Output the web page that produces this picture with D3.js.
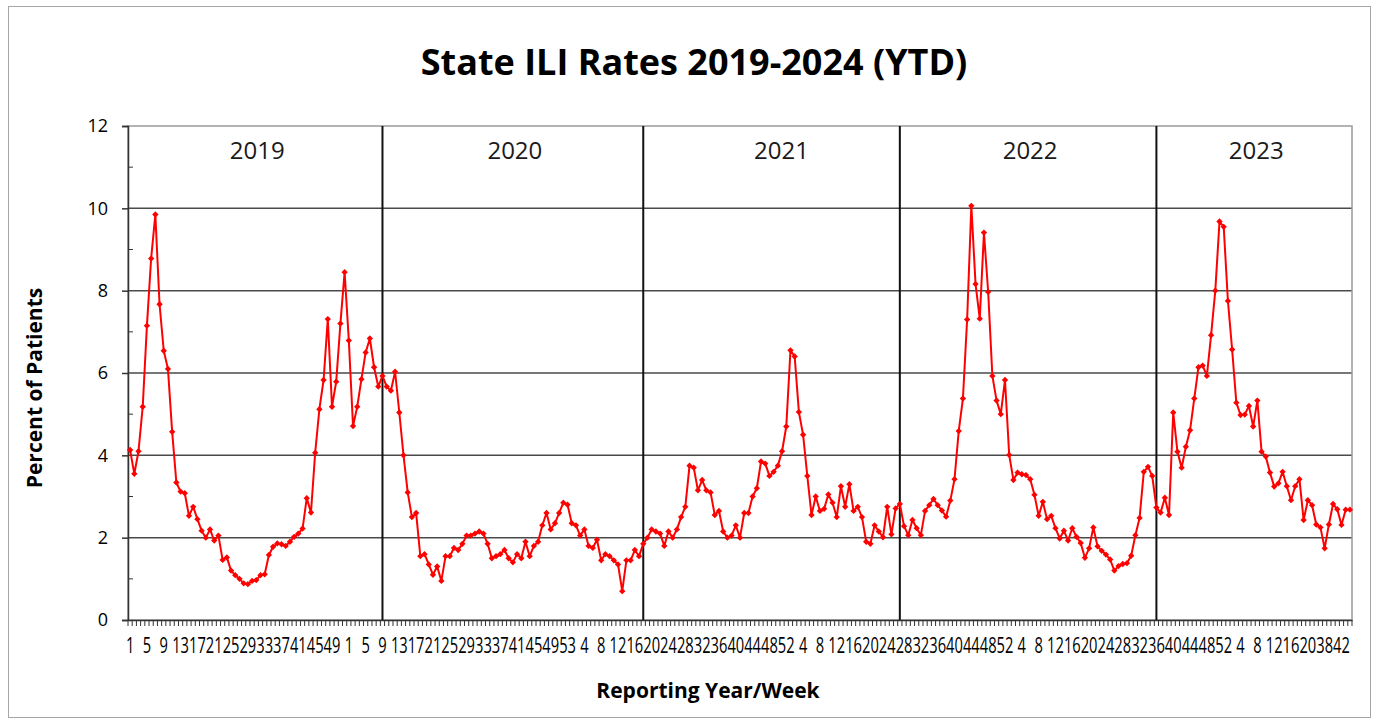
<!DOCTYPE html>
<html>
<head>
<meta charset="utf-8">
<script src="https://cdn.jsdelivr.net/npm/d3@7"></script>
<style>
body { margin: 0; background: #fff; }
text { font-family: "Open Sans", "Noto Sans", sans-serif; fill: #000; }
</style>
</head>
<body>
<svg id="chart" width="1380" height="724"></svg>
<script>
// weekly ILI rates (% of patients)
const ili2019 = [4.13,3.55,4.1,5.18,7.15,8.78,9.85,7.67,6.54,6.1,4.57,3.34,3.12,3.08,2.53,2.75,2.45,2.17,2.0,2.2,
	1.93,2.05,1.46,1.52,1.2,1.09,1.0,0.89,0.87,0.95,0.97,1.09,1.11,1.58,1.78,1.86,1.84,1.8,1.9,2.02,
	2.1,2.22,2.96,2.61,4.06,5.12,5.83,7.31,5.18,5.79,7.2,8.45];
const ili2020 = [6.79,4.71,5.18,5.85,6.5,6.84,6.14,5.67,5.93,5.67,5.57,6.03,5.04,4.0,3.1,2.5,2.6,1.55,1.6,1.35,
	1.1,1.3,0.95,1.55,1.55,1.75,1.7,1.85,2.05,2.05,2.1,2.15,2.1,1.85,1.5,1.55,1.6,1.7,1.5,1.4,
	1.6,1.5,1.9,1.55,1.8,1.9,2.3,2.6,2.2,2.35,2.6,2.85,2.8];
const ili2021 = [2.35,2.3,2.05,2.2,1.8,1.75,1.95,1.45,1.6,1.55,1.45,1.35,0.7,1.45,1.45,1.7,1.55,1.85,2.0,2.2,
	2.15,2.1,1.8,2.15,2.0,2.2,2.5,2.75,3.75,3.7,3.15,3.4,3.15,3.1,2.55,2.65,2.15,2.0,2.05,2.3,
	2.0,2.6,2.6,3.0,3.2,3.85,3.8,3.5,3.6,3.75,4.1,4.7];
const ili2022 = [6.55,6.4,5.05,4.5,3.5,2.55,3.0,2.65,2.7,3.05,2.85,2.5,3.25,2.75,3.3,2.65,2.75,2.5,1.9,1.85,
	2.3,2.15,2.01,2.75,2.08,2.71,2.82,2.28,2.06,2.43,2.23,2.06,2.65,2.79,2.94,2.79,2.66,2.51,2.9,3.42,
	4.59,5.38,7.3,10.06,8.16,7.32,9.41,7.97,5.93,5.33,5.0,5.83];
const ili2023 = [4.01,3.4,3.58,3.54,3.52,3.42,3.04,2.53,2.87,2.45,2.53,2.23,1.98,2.17,1.93,2.23,2.02,1.87,1.51,1.74,
	2.25,1.79,1.68,1.59,1.47,1.2,1.31,1.36,1.38,1.56,2.06,2.48,3.6,3.72,3.5,2.73,2.61,2.97,2.55,5.04,
	4.09,3.7,4.21,4.61,5.38,6.14,6.18,5.93,6.92,8.0,9.68,9.55];
const ili2024 = [7.75,6.57,5.28,4.98,4.99,5.2,4.7,5.33,4.09,3.97,3.58,3.24,3.32,3.6,3.25,2.91,3.25,3.42,2.43,2.91,
	2.79,2.32,2.25,1.74,2.32,2.82,2.69,2.31,2.68,2.68];
const weeks2024 = [1,2,3,4,5,6,7,8,9,10,11,12,13,14,15,16,17,18,19,20,21,36,37,38,39,40,41,42,43,44];

const yTicks = [0, 2, 4, 6, 8, 10, 12];
const yMinor = [1, 3, 5, 7, 9, 11];
const yearLabels = ['2019', '2020', '2021', '2022', '2023'];
const dividerCats = [60, 122, 183, 244];   // category index where the black separators sit
const labelEvery = 4;

const W = 1380, H = 724,
	margin = {top: 126, right: 28, bottom: 104, left: 128};

// flatten the years into one run of weekly categories
const seasons = [
	{values: ili2019, weeks: d3.range(1, 53)},
	{values: ili2020, weeks: d3.range(1, 54)},
	{values: ili2021, weeks: d3.range(1, 53)},
	{values: ili2022, weeks: d3.range(1, 53)},
	{values: ili2023, weeks: d3.range(1, 53)},
	{values: ili2024, weeks: weeks2024}
];
const points = [];
seasons.forEach(s => s.values.forEach((v, k) => points.push({i: points.length, week: s.weeks[k], value: v})));

const svg = d3.select('#chart');

// outer frame
svg.append('rect')
	.attr('x', 8.5).attr('y', 6.5)
	.attr('width', 1362).attr('height', 711)
	.attr('fill', 'none').attr('stroke', '#a6a6a6').attr('stroke-width', 1);

const x = d3.scaleBand()
	.domain(points.map(d => d.i))
	.range([margin.left, W - margin.right]);
const y = d3.scaleLinear()
	.domain([0, 12])
	.range([H - margin.bottom, margin.top]);
const cx = i => x(i) + x.bandwidth() / 2;

const plotL = margin.left, plotR = W - margin.right, plotT = margin.top, plotB = H - margin.bottom;

// horizontal gridlines
svg.append('g')
	.selectAll('line')
	.data(yTicks.filter(t => t > 0 && t < 12))
	.enter().append('line')
		.attr('x1', plotL).attr('x2', plotR)
		.attr('y1', d => y(d)).attr('y2', d => y(d))
		.attr('stroke', '#4a4a4a').attr('stroke-width', 1.5);

// plot border (top / right are grey)
svg.append('rect')
	.attr('x', plotL).attr('y', plotT)
	.attr('width', plotR - plotL).attr('height', plotB - plotT)
	.attr('fill', 'none').attr('stroke', '#9a9a9a').attr('stroke-width', 1.5);

// black separators
svg.append('g')
	.selectAll('line')
	.data(dividerCats)
	.enter().append('line')
		.attr('x1', d => cx(d)).attr('x2', d => cx(d))
		.attr('y1', plotT).attr('y2', plotB)
		.attr('stroke', '#111').attr('stroke-width', 2);

// year labels, centred between separators
const edges = [plotL].concat(dividerCats.map(cx), [plotR]);
svg.append('g')
	.selectAll('text')
	.data(yearLabels)
	.enter().append('text')
		.attr('x', (d, k) => (edges[k] + edges[k + 1]) / 2 + (k === 2 ? 10 : 2))
		.attr('y', 159)
		.attr('text-anchor', 'middle')
		.style('font-size', '24px')
		.style('fill', '#1a1a1a')
		.text(d => d);

// y axis
const yAxis = d3.axisLeft(y).tickValues(yTicks).tickSize(6).tickPadding(14);
const gy = svg.append('g')
	.attr('transform', `translate(${plotL},0)`)
	.call(yAxis);
gy.select('.domain').attr('stroke', '#333').attr('stroke-width', 1.5);
gy.selectAll('.tick line').attr('stroke', '#333').attr('stroke-width', 1.5);
gy.selectAll('text').style('font-size', '18px').style('font-family', '"Open Sans", sans-serif');

svg.append('g')
	.selectAll('line')
	.data(yMinor)
	.enter().append('line')
		.attr('x1', plotL).attr('x2', plotL + 5)
		.attr('y1', d => y(d)).attr('y2', d => y(d))
		.attr('stroke', '#333').attr('stroke-width', 1);

// x axis: a small tick at every week boundary, label every 4th week
const boundaries = points.map(d => x(d.i)).concat([plotR]);
svg.append('g')
	.selectAll('line')
	.data(boundaries)
	.enter().append('line')
		.attr('x1', d => d).attr('x2', d => d)
		.attr('y1', plotB).attr('y2', plotB + 6)
		.attr('stroke', '#333').attr('stroke-width', 1);

const xAxis = d3.axisBottom(x)
	.tickValues(points.filter(d => d.i % labelEvery === 0).map(d => d.i))
	.tickFormat(i => points[i].week)
	.tickSize(0)
	.tickPadding(18);
const gx = svg.append('g')
	.attr('transform', `translate(0,${plotB})`)
	.call(xAxis);
gx.select('.domain').attr('stroke', '#333').attr('stroke-width', 1.5);
// labels are squeezed sideways in the original
gx.selectAll('text')
	.style('font-size', '21px')
	.style('font-family', '"Open Sans", sans-serif')
	.attr('transform', 'scale(0.7,1)');

// the series
const line = d3.line()
	.x(d => cx(d.i))
	.y(d => y(d.value));

svg.append('path')
	.datum(points)
	.attr('d', line)
	.attr('fill', 'none')
	.attr('stroke', '#ff0000')
	.attr('stroke-width', 2)
	.attr('stroke-linejoin', 'round');

svg.append('g')
	.selectAll('path')
	.data(points)
	.enter().append('path')
		.attr('d', d3.symbol(d3.symbolSquare, 20))
		.attr('transform', d => `translate(${cx(d.i)},${y(d.value)}) rotate(45)`)
		.attr('fill', '#ff0000');

// titles
svg.append('text')
	.attr('x', 694).attr('y', 75)
	.attr('text-anchor', 'middle')
	.style('font-size', '36px')
	.style('font-weight', 'bold')
	.text('State ILI Rates 2019-2024 (YTD)');

svg.append('text')
	.attr('transform', `translate(42,${(plotT + plotB) / 2 + 15}) rotate(-90)`)
	.attr('text-anchor', 'middle')
	.style('font-size', '21px')
	.style('font-weight', 'bold')
	.text('Percent of Patients');

svg.append('text')
	.attr('x', 708).attr('y', 698)
	.attr('text-anchor', 'middle')
	.style('font-size', '21px')
	.style('font-weight', 'bold')
	.text('Reporting Year/Week');
</script>
</body>
</html>
